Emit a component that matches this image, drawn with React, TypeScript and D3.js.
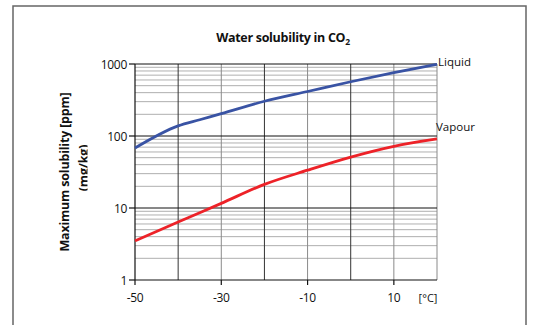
import React from "react";
import * as d3 from "d3";

const temps = [-50, -40, -35, -30, -20, -10, 0, 10, 20];
const liquid = [68, 138, 168, 204, 304, 415, 567, 758, 990];
const vapour = [3.5, 6.4, 8.6, 11.6, 21.3, 33.5, 51, 72, 91];
const xTickLabels = [-50, -30, -10, 10];
const yTickLabels = [1, 10, 100, 1000];
const darkVLines = [-40, -20, 0];
const lightVLines = [-30, -10, 10, 20];

const FONT = "'Open Sans', 'Noto Sans', sans-serif";

export default function App() {
  const x = d3.scaleLinear().domain([-50, 20]).range([135, 437]);
  const y = d3.scaleLog().domain([1, 1000]).range([280, 64]);
  const line = d3
    .line<number>()
    .x((_, i) => x(temps[i]))
    .y((d) => y(d))
    .curve(d3.curveMonotoneX);

  const minor: number[] = [];
  [1, 10, 100].forEach((dec) => {
    for (let k = 2; k <= 9; k++) minor.push(dec * k);
  });

  return (
    <svg
      width={544}
      height={325}
      style={{ position: "absolute", left: 0, top: 0, background: "#fff" }}
      fontFamily={FONT}
    >
      <defs>
        <clipPath id="lblclip" clipPathUnits="userSpaceOnUse">
          <rect x={0} y={0} width={87.5} height={325} />
        </clipPath>
      </defs>
      {/* frame */}
      <path d="M13,325 V6 H526 V325" fill="none" stroke="#666" strokeWidth={1.5} />

      <text x={283} y={42} textAnchor="middle" fontWeight="bold" fontSize={12.5} fill="#111" letterSpacing={-0.3}>
        Water solubility in CO
        <tspan fontSize={8.5} dy={3}>2</tspan>
      </text>

      {/* minor horizontal lines */}
      {minor.map((v) => (
        <line key={"m" + v} x1={135} x2={437} y1={y(v)} y2={y(v)} stroke="#9a9a9a" strokeWidth={0.8} />
      ))}
      {/* vertical lines */}
      {lightVLines.map((t) => (
        <line key={"l" + t} x1={x(t)} x2={x(t)} y1={64} y2={280} stroke="#8a8a8a" strokeWidth={1} />
      ))}
      {darkVLines.map((t) => (
        <line key={"d" + t} x1={x(t)} x2={x(t)} y1={64} y2={280} stroke="#333" strokeWidth={1} />
      ))}
      {/* major horizontal lines */}
      {[10, 100, 1000].map((v) => (
        <line key={"M" + v} x1={135} x2={437} y1={y(v)} y2={y(v)} stroke="#111" strokeWidth={1} />
      ))}
      {/* axes */}
      <line x1={135} x2={135} y1={64} y2={280} stroke="#111" strokeWidth={1.2} />
      <line x1={135} x2={437} y1={280} y2={280} stroke="#111" strokeWidth={1.2} />
      {yTickLabels.map((v) => (
        <g key={"yt" + v}>
          <line x1={129} x2={135} y1={y(v)} y2={y(v)} stroke="#111" strokeWidth={1.2} />
          <text x={127} y={y(v) + 4.5} textAnchor="end" fontSize={12} fill="#111" letterSpacing={-0.3}>
            {v}
          </text>
        </g>
      ))}
      {xTickLabels.map((t) => (
        <g key={"xt" + t}>
          <line x1={x(t)} x2={x(t)} y1={280} y2={285} stroke="#111" strokeWidth={1.2} />
          <text x={x(t)} y={302} textAnchor="middle" fontSize={12} fill="#111" letterSpacing={-0.3}>
            {t}
          </text>
        </g>
      ))}
      <text x={428} y={302} textAnchor="middle" fontSize={11} fill="#111">
        [°C]
      </text>

      {/* series */}
      <path d={line(liquid) || ""} fill="none" stroke="#3953a4" strokeWidth={2.8} />
      <path d={line(vapour) || ""} fill="none" stroke="#ed2228" strokeWidth={2.8} />
      <text x={438} y={66} fontSize={11.5} fill="#111">Liquid</text>
      <text x={436} y={131} fontSize={11.5} fill="#111">Vapour</text>

      {/* y label */}
      <text
        transform="translate(69,172) rotate(-90)"
        textAnchor="middle"
        fontWeight="bold"
        fontSize={12.5}
        fill="#111"
        letterSpacing={-0.2}
      >
        Maximum solubility [ppm]
      </text>
      <g clipPath="url(#lblclip)">
        <text
          transform="translate(88,168) rotate(-90)"
          textAnchor="middle"
          fontWeight="bold"
          fontSize={12.5}
          fill="#111"
          letterSpacing={-0.2}
        >
          (mg/kg)
        </text>
      </g>
    </svg>
  );
}
